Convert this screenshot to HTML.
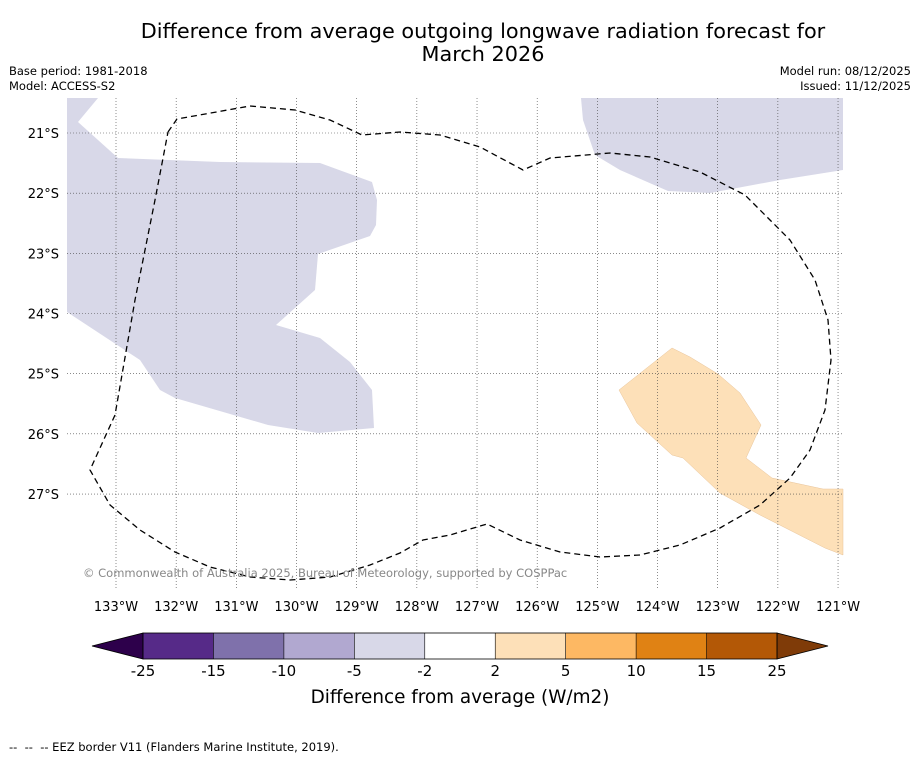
<!DOCTYPE html>
<html><head><meta charset="utf-8"><style>
body{margin:0;background:#fff;font-family:"Liberation Sans","DejaVu Sans",sans-serif;}
#wrap{position:relative;width:919px;height:758px;overflow:hidden;background:#fff}
</style></head><body>
<div id="wrap">
<svg id="svg" width="919" height="758" xmlns="http://www.w3.org/2000/svg" font-family="DejaVu Sans, Liberation Sans, sans-serif">
<text x="483" y="38" font-size="20.8" text-anchor="middle">Difference from average outgoing longwave radiation forecast for</text>
<text x="483" y="61" font-size="20.8" text-anchor="middle">March 2026</text>
<text x="9" y="75" font-size="11.5">Base period: 1981-2018</text>
<text x="9" y="90" font-size="11.5">Model: ACCESS-S2</text>
<text x="911" y="75" font-size="11.5" text-anchor="end">Model run: 08/12/2025</text>
<text x="911" y="90" font-size="11.5" text-anchor="end">Issued: 11/12/2025</text>
<g id="map">
<polygon fill="#d8d8e8" points="67,98 98,98 78,122 118,158 220,162 320,163 372,182 377,200 376,225 370,236 318,254 315,290 276,325 320,338 350,362 372,390 374,428 318,433 268,425 175,398 160,390 140,360 67,312"/>
<polygon fill="#d8d8e8" points="581,98 843,98 843,170 780,180 710,193 668,191 620,170 595,155 583,120"/>
<polygon fill="#fde0b8" stroke="#e8c49a" stroke-width="0.5" points="619,390 672,348 690,357 718,374 740,393 761,425 746,458 772,478 823,489 843,489 843,555 825,548 760,515 720,493 683,458 672,455 637,423"/>
<g id="grid"></g>
<polyline fill="none" stroke="#000" stroke-width="1.3" stroke-dasharray="6,4" points="168,132 177,119 250,106 295,110 330,120 362,135 400,132 440,135 480,147 523,170 550,158 610,153 650,157 700,172 745,195 790,240 815,280 828,320 831,360 825,410 810,450 790,478 760,505 720,528 680,545 640,555 600,557 560,552 520,540 487,524 450,535 423,540 400,553 370,565 330,577 290,580 250,577 210,567 175,552 140,530 110,505 90,470 115,415 135,300 155,200 168,132"/>
<text x="83" y="577" font-size="11.5" fill="#888">© Commonwealth of Australia 2025, Bureau of Meteorology, supported by COSPPac</text>
</g>
<g id="cbar"></g>
<text x="460" y="703" font-size="18.4" text-anchor="middle">Difference from average (W/m2)</text>
<text x="9" y="751" font-size="11.5" xml:space="preserve" style="white-space:pre">--  --  -- EEZ border V11 (Flanders Marine Institute, 2019).</text>
</svg>
</div>
<script>
const lonTicks=[133,132,131,130,129,128,127,126,125,124,123,122,121];
const latTicks=[21,22,23,24,25,26,27];
const cbarLevels=[-25,-15,-10,-5,-2,2,5,10,15,25];
const cbarColors=["#562a88","#7f71ab","#b1a8d0","#d8d8e8","#ffffff","#fde0b8","#fdb863","#e08214","#b35806"];
const ns="http://www.w3.org/2000/svg";
const X0=67,X1=843,Y0=98,Y1=590;
function xLon(l){return 116+(133-l)*60.17;}
function yLat(l){return 133+(l-21)*60.17;}
function mk(t,a,p){const e=document.createElementNS(ns,t);for(const k in a)e.setAttribute(k,a[k]);p.appendChild(e);return e;}
const g=document.getElementById('grid');
lonTicks.forEach(l=>{const x=xLon(l);
 const ln=mk('line',{x1:x,x2:x,y1:Y0,y2:Y1,stroke:'#444','stroke-width':0.6,'stroke-dasharray':'1,2'},g);
 
 
 const t=mk('text',{x:x,y:611,'font-size':13,'text-anchor':'middle'},g);t.textContent=l+'°W';
 
 
});
latTicks.forEach(l=>{const y=yLat(l);
 const ln=mk('line',{x1:X0,x2:X1,y1:y,y2:y,stroke:'#444','stroke-width':0.6,'stroke-dasharray':'1,2'},g);
 
 
 const t=mk('text',{x:59,y:y+5,'font-size':13,'text-anchor':'end'},g);t.textContent=l+'°S';
 
 
});
const cb=document.getElementById('cbar');
const CX0=143,CX1=777,CY0=633,CY1=659,n=cbarLevels.length-1,w=(CX1-CX0)/n;
const lt=mk('polygon',{points:`${CX0},${CY0} ${CX0},${CY1} 92,646`,fill:'#2d004b',stroke:'#000','stroke-width':0.8},cb);


const rt=mk('polygon',{points:`${CX1},${CY0} ${CX1},${CY1} 828,646`,fill:'#7f3b08',stroke:'#000','stroke-width':0.8},cb);


cbarColors.forEach((c,i)=>{
 const r=mk('rect',{x:CX0+i*w,y:CY0,width:w,height:CY1-CY0,fill:c},cb);
 
 
});
mk('rect',{x:CX0,y:CY0,width:CX1-CX0,height:CY1-CY0,fill:'none',stroke:'#000','stroke-width':0.8},cb);
cbarLevels.forEach((v,i)=>{const x=CX0+i*w;
 mk('line',{x1:x,x2:x,y1:CY0,y2:CY1,stroke:'#000','stroke-width':0.6},cb);
 const t=mk('text',{x:x,y:676,'font-size':15,'text-anchor':'middle'},cb);t.textContent=v;
 
 
});
</script>
</body></html>
